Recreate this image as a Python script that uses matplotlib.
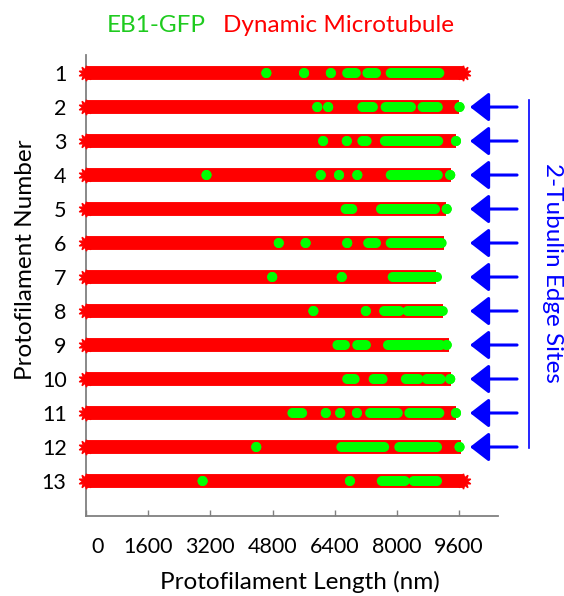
import numpy as np
import matplotlib
matplotlib.use("Agg")
import matplotlib.pyplot as plt
import matplotlib.transforms as mtransforms

plt.rcParams['font.family'] = ['Lato', 'DejaVu Sans']

# protofilament lengths (nm), row 1..13
rows = list(range(1, 14))
lengths = [9700, 9600, 9520, 9390, 9260, 9220, 9000, 9180, 9350, 9390, 9520, 9650, 9700]
jagged_rows = [1, 13]

# EB1-GFP runs along each protofilament (start, end) in nm; single spots have start == end
eb1_runs = [
    [(4640, 4640), (5610, 5610), (6300, 6300), (6720, 6940), (7240, 7460), (7840, 9090)],
    [(5950, 5950), (6230, 6230), (7110, 7380), (7710, 8360), (8660, 9050), (9610, 9610)],
    [(6100, 6100), (6710, 6710), (7110, 7220), (7690, 9060), (9520, 9520)],
    [(3100, 3100), (6040, 6040), (6510, 6510), (6980, 6980), (7840, 9050), (9370, 9370)],
    [(6680, 6850), (7590, 8980), (9280, 9280)],
    [(4960, 4960), (5650, 5650), (6720, 6720), (7260, 7460), (7840, 9150)],
    [(4790, 4790), (6580, 6580), (7890, 9030)],
    [(5850, 5850), (7200, 7200), (7670, 8060), (8270, 9180)],
    [(6470, 6660), (6980, 7200), (7770, 9130), (9280, 9280)],
    [(6720, 6910), (7400, 7630), (8230, 8550), (8770, 9120), (9370, 9370)],
    [(5310, 5560), (6170, 6170), (6540, 6540), (6970, 6970), (7310, 8020), (8320, 9090), (9520, 9520)],
    [(4380, 4380), (6570, 7670), (8060, 9030), (9610, 9610)],
    [(3000, 3000), (6790, 6790), (7610, 8200), (8430, 9030)],
]

arrow_rows = list(range(2, 13))
xticks = [0, 1600, 3200, 4800, 6400, 8000, 9600]

red = '#FF0000'
green = '#00FF00'
blue = '#0000FF'
fs = 17.5
tick_fs = 15.5

fig = plt.figure(figsize=(5.64, 5.96), dpi=100)
ax = fig.add_axes([0.1525, 0.1342, 0.7305, 0.7735])

for r, L in zip(rows, lengths):
    ax.plot([0, L], [r, r], color=red, lw=10, solid_capstyle='butt', zorder=3, clip_on=False)
    ax.plot([0], [r], marker=(10, 1, 0), ms=11, color=red, mec=red, zorder=3, clip_on=False)
    if r in jagged_rows:
        ax.plot([L], [r], marker=(10, 1, 0), ms=11, color=red, mec=red, zorder=3, clip_on=False)

for r, runs in zip(rows, eb1_runs):
    for a, b in runs:
        if b > a:
            ax.plot([a, b], [r, r], color=green, lw=7.2, solid_capstyle='butt', zorder=4)
        ax.scatter([a, b], [r, r], s=52, color=green, edgecolors='none', zorder=4)

# arrows marking the 2-tubulin edge sites
for r in arrow_rows:
    ax.annotate('', xy=(9880, r), xytext=(11090, r), annotation_clip=False,
                arrowprops=dict(arrowstyle='-|>,head_length=0.58,head_width=0.45',
                                mutation_scale=20, lw=2.2, color=blue,
                                shrinkA=0, shrinkB=0))
ax.plot([11395, 11395], [1.79, 12.03], color=blue, lw=1.2, clip_on=False)
ax.text(11990, 6.88, '2-Tubulin Edge Sites', rotation=-90, color=blue,
        fontsize=fs, ha='center', va='center', clip_on=False)

ax.set_xlim(0, 10600)
ax.set_ylim(14.03, 0.47)
ax.set_xticks(xticks)
ax.set_xticklabels([str(t) for t in xticks])
ax.set_yticks(rows)
ax.set_yticklabels([str(r) for r in rows])
ax.tick_params(axis='x', direction='in', length=4, width=1, color='#808080',
               labelsize=tick_fs, pad=15)
ax.tick_params(axis='y', length=0, labelsize=tick_fs, pad=14)
for s in ['top', 'right']:
    ax.spines[s].set_visible(False)
for s in ['left', 'bottom']:
    ax.spines[s].set_color('#808080')
    ax.spines[s].set_linewidth(1.3)

# the "0" label sits a little right of its tick in the original
zero_lbl = ax.get_xticklabels()[0]
zero_lbl.set_transform(zero_lbl.get_transform() +
                       mtransforms.ScaledTranslation(12 / 100, 0, fig.dpi_scale_trans))

ax.set_xlabel('Protofilament Length (nm)', fontsize=fs, labelpad=10)
ax.set_ylabel('Protofilament Number', fontsize=fs, labelpad=4)
ax.xaxis.label.set_x(0.52)
ax.yaxis.label.set_y(0.555)

fig.text(107 / 564, 1 - 25 / 596, 'EB1-GFP', color='#1FCB1F', fontsize=fs, va='center')
fig.text(223 / 564, 1 - 25 / 596, 'Dynamic Microtubule', color=red, fontsize=fs, va='center')

fig.savefig('out.png', dpi=100)
